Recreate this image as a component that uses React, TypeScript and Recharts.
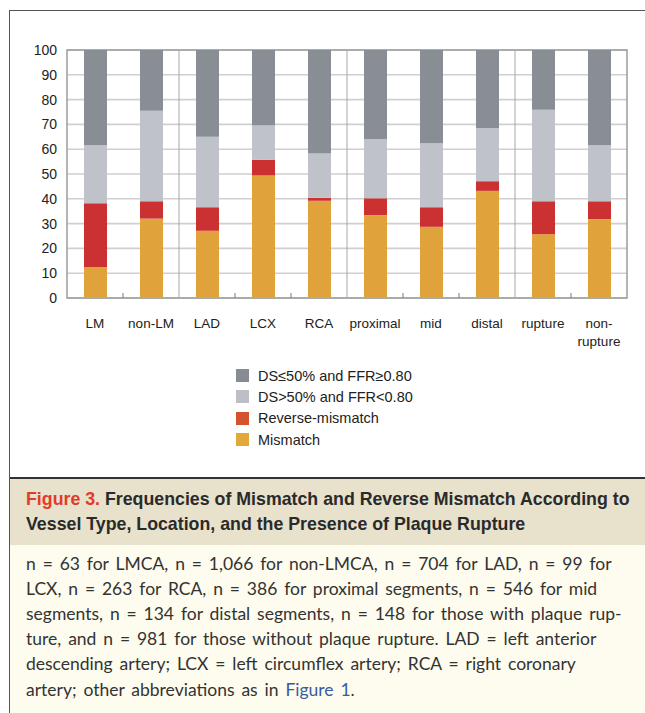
import React from 'react';
import {
  BarChart,
  Bar,
  XAxis,
  YAxis,
  CartesianGrid,
  ReferenceLine,
  ReferenceArea,
  Legend,
} from 'recharts';

const CATEGORIES = ['LM', 'non-LM', 'LAD', 'LCX', 'RCA', 'proximal', 'mid', 'distal', 'rupture', 'non-rupture'];
const TICK_LINES: Record<string, string[]> = {
  'non-rupture': ['non-', 'rupture'],
};
const MISMATCH = [12.5, 32.0, 27.1, 49.4, 39.2, 33.4, 28.7, 43.2, 25.7, 31.8];
const REVERSE = [25.7, 7.0, 9.5, 6.3, 1.2, 6.8, 7.9, 3.9, 13.3, 7.2];
const DS_HIGH = [23.4, 36.5, 28.4, 14.0, 17.9, 23.9, 25.8, 21.4, 36.9, 22.6];
const DS_LOW = [38.4, 24.5, 35.0, 30.3, 41.7, 35.9, 37.6, 31.5, 24.1, 38.4];
const Y_TICKS = [0, 10, 20, 30, 40, 50, 60, 70, 80, 90, 100];
// first category of each group gets a full separator on its left edge,
// the others get a small tick mark
const GROUP_STARTS = ['LAD', 'proximal', 'rupture'];
const TICK_STARTS = ['non-LM', 'LCX', 'RCA', 'mid', 'distal', 'non-rupture'];

const SERIES = [
  { key: 'dsLow', name: 'DS\u226450% and FFR\u22650.80', color: '#898d94', legend: '#878b92' },
  { key: 'dsHigh', name: 'DS>50% and FFR<0.80', color: '#bfc2c8', legend: '#bcbfc6' },
  { key: 'reverse', name: 'Reverse-mismatch', color: '#cc3131', legend: '#d4532f' },
  { key: 'mismatch', name: 'Mismatch', color: '#e0a33b', legend: '#e3a83a' },
];

const data = CATEGORIES.map((name, i) => ({
  name,
  mismatch: MISMATCH[i],
  reverse: REVERSE[i],
  dsHigh: DS_HIGH[i],
  dsLow: DS_LOW[i],
}));

const FONT = '"Liberation Sans", Arial, sans-serif';

const CategoryTick = (props: any) => {
  const { x, y, payload } = props;
  const lines = TICK_LINES[payload.value] || [payload.value];
  return (
    <text x={x} y={y} textAnchor="middle" fontSize={13.5} fill="#222" fontFamily={FONT}>
      {lines.map((l, i) => (
        <tspan key={i} x={x} dy={i === 0 ? 30 : 18}>
          {l}
        </tspan>
      ))}
    </text>
  );
};

const LegendBox = () => (
  <div style={{ fontFamily: FONT, fontSize: 14.5, color: '#222' }}>
    {SERIES.map((s) => (
      <div key={s.key} style={{ display: 'flex', alignItems: 'center', height: 21.3 }}>
        <span style={{ width: 13, height: 13, background: s.legend, display: 'inline-block', marginRight: 9 }} />
        <span>{s.name}</span>
      </div>
    ))}
  </div>
);

const HEADER_LINES = [
  ['Figure 3.', ' Frequencies of Mismatch and Reverse Mismatch According to'],
  ['', 'Vessel Type, Location, and the Presence of Plaque Rupture'],
];

const BODY_LINES = [
  'n = 63 for LMCA, n = 1,066 for non-LMCA, n = 704 for LAD, n = 99 for',
  'LCX, n = 263 for RCA, n = 386 for proximal segments, n = 546 for mid',
  'segments, n = 134 for distal segments, n = 148 for those with plaque rup-',
  'ture, and n = 981 for those without plaque rupture. LAD = left anterior',
  'descending artery; LCX = left circumflex artery; RCA = right coronary',
];

const bodyStyle = (i: number): React.CSSProperties => ({
  position: 'absolute',
  left: 26,
  top: 552 + i * 25.1,
  whiteSpace: 'nowrap',
  fontFamily: 'Lato, sans-serif',
  fontSize: 17.5,
  wordSpacing: 2.4,
  lineHeight: '24px',
  color: '#333',
});

export default function App() {
  return (
    <div style={{ position: 'absolute', left: 0, top: 0, width: 645, height: 713, background: '#fff', overflow: 'hidden' }}>
      {/* outer frame */}
      <div
        style={{
          position: 'absolute',
          left: 9,
          top: 10,
          width: 650,
          height: 720,
          borderLeft: '1.5px solid #555',
          borderTop: '1.5px solid #555',
        }}
      />
      <div style={{ position: 'absolute', left: 0, top: 0 }}>
        <BarChart
          width={645}
          height={470}
          data={data}
          margin={{ top: 50, right: 18, left: 0, bottom: 122 }}
          barSize={23}
        >
          <CartesianGrid vertical={false} stroke="#cfcfcf" strokeWidth={1.6} />
          <XAxis
            dataKey="name"
            tickLine={false}
            axisLine={false}
            tickSize={0}
            tickMargin={0}
            height={50}
            tick={<CategoryTick />}
            interval={0}
          />
          <YAxis
            domain={[0, 100]}
            ticks={Y_TICKS}
            tickLine={false}
            axisLine={false}
            tickSize={0}
            tickMargin={10}
            width={67}
            tick={{ fontSize: 14, fill: '#222', fontFamily: FONT }}
            interval={0}
          />
          {GROUP_STARTS.map((c) => (
            <ReferenceLine key={c} x={c} position="start" stroke="#a8a8a8" strokeWidth={1} />
          ))}
          {TICK_STARTS.map((c) => (
            <ReferenceLine
              key={`t${c}`}
              position="start"
              segment={[
                { x: c, y: 0 },
                { x: c, y: 2 },
              ]}
              stroke="#777"
              strokeWidth={1}
            />
          ))}
          <Bar dataKey="mismatch" stackId="a" fill="#e0a33b" isAnimationActive={false} name="Mismatch" />
          <Bar dataKey="reverse" stackId="a" fill="#cc3131" isAnimationActive={false} name="Reverse-mismatch" />
          <Bar dataKey="dsHigh" stackId="a" fill="#bfc2c8" isAnimationActive={false} name="DS>50% and FFR<0.80" />
          <Bar dataKey="dsLow" stackId="a" fill="#898d94" isAnimationActive={false} name="DS≤50% and FFR≥0.80" />
          <ReferenceArea y1={0} y2={100} fill="none" fillOpacity={0} stroke="#9c9c9c" strokeWidth={1.5} />
          <Legend
            layout="vertical"
            align="center"
            verticalAlign="middle"
            content={<LegendBox />}
            wrapperStyle={{ position: 'absolute', top: 365, left: 236, width: 260 }}
          />
        </BarChart>
      </div>
      {/* caption header */}
      <div
        style={{
          position: 'absolute',
          left: 10,
          top: 477,
          width: 640,
          height: 66,
          background: '#e8e1cc',
          borderTop: '2px solid #333',
        }}
      />
      <div style={{ position: 'absolute', left: 10, top: 545, width: 640, height: 170, background: '#fdfcee' }} />
      {HEADER_LINES.map((l, i) => (
        <div
          key={i}
          style={{
            position: 'absolute',
            left: 26,
            top: 487 + i * 25,
            whiteSpace: 'nowrap',
            fontFamily: FONT,
            fontWeight: 'bold',
            fontSize: 19,
            lineHeight: '24px',
            color: '#2a2a2a',
            transform: 'scaleX(0.935)',
            transformOrigin: 'left center',
          }}
        >
          {l[0] && <span style={{ color: '#e23b2a' }}>{l[0]}</span>}
          {l[1]}
        </div>
      ))}
      {BODY_LINES.map((t, i) => (
        <div key={i} style={bodyStyle(i)}>
          {t}
        </div>
      ))}
      <div style={bodyStyle(5)}>
        artery; other abbreviations as in <span style={{ color: '#3a5aa0' }}>Figure 1</span>.
      </div>
    </div>
  );
}
